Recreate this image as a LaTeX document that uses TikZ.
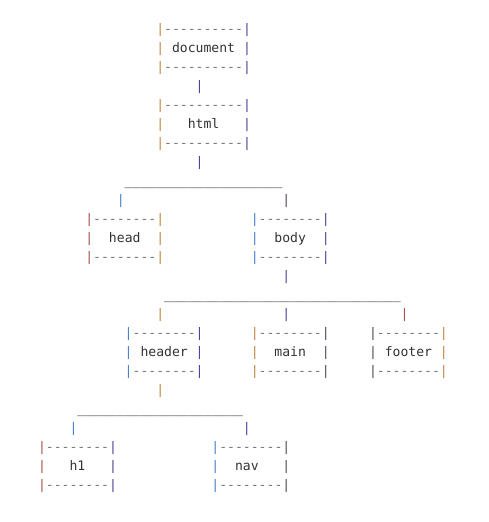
\documentclass[tikz,border=0pt]{standalone}
\usepackage{fontspec}
\setmonofont{DejaVu Sans Mono}
\usepackage{tikz}

\definecolor{inkgray}{HTML}{333333}
\definecolor{linegray}{HTML}{2A2A2A}
\definecolor{dashgray}{HTML}{747474}
\definecolor{porange}{HTML}{C0843E}
\definecolor{pblue}{HTML}{4A80C8}
\definecolor{ppurple}{HTML}{4A4494}
\definecolor{pred}{HTML}{A8504A}
\definecolor{pdark}{HTML}{54465A}

% three text lines of one box: left pipe colour, right pipe colour, label, dashes
\newcommand\tbox[4]{\vtop{\baselineskip=19pt\lineskiplimit=-\maxdimen
  \hbox{\textcolor{#1}{|}\textcolor{dashgray}{#4}\textcolor{#2}{|}}
  \hbox{\textcolor{#1}{|}#3\textcolor{#2}{|}}
  \hbox{\textcolor{#1}{|}\textcolor{dashgray}{#4}\textcolor{#2}{|}}}}
\newcommand\lowline[1]{\textcolor{linegray}{\foreach \k in {1,...,#1}{\_}}}

\begin{document}
\begin{tikzpicture}
  [x=7.88pt,y=-19pt,every node/.style={anchor=base west,inner sep=0pt,outer sep=0pt,
   text=inkgray,font=\ttfamily\fontsize{13.1}{19}\selectfont}]
  \useasboundingbox (-4.829,-1.737) rectangle (57.227,25.737);
  \node (document) at (15,0)  {\tbox{porange}{ppurple}{~document~}{----------}};
  \node (html)     at (15,4)  {\tbox{porange}{ppurple}{~~~html~~~}{----------}};
  \node (head)     at (6,10)  {\tbox{pred}{porange}{~~head~~}{--------}};
  \node (body)     at (27,10) {\tbox{pblue}{ppurple}{~~body~~}{--------}};
  \node (header)   at (11,16) {\tbox{pblue}{ppurple}{~header~}{--------}};
  \node (main)     at (27,16) {\tbox{porange}{pdark}{~~main~~}{--------}};
  \node (footer)   at (42,16) {\tbox{pdark}{porange}{~footer~}{--------}};
  \node (h1)       at (0,22)  {\tbox{pred}{ppurple}{~~~h1~~~}{--------}};
  \node (nav)      at (22,22) {\tbox{pblue}{pdark}{~~nav~~~}{--------}};

  \node (bar1) at (11,8)  {\lowline{20}};
  \node (bar2) at (16,14) {\lowline{30}};
  \node (bar3) at (5,20)  {\lowline{21}};

  \foreach \c/\r/\col in {20/3/ppurple,20/7/ppurple,10/9/pblue,31/9/pdark,31/13/ppurple,
    15/15/porange,31/15/ppurple,46/15/pred,15/19/porange,4/21/pblue,26/21/ppurple}
    \node (p\c-\r) at (\c,\r) {\textcolor{\col}{|}};
\end{tikzpicture}
\end{document}
